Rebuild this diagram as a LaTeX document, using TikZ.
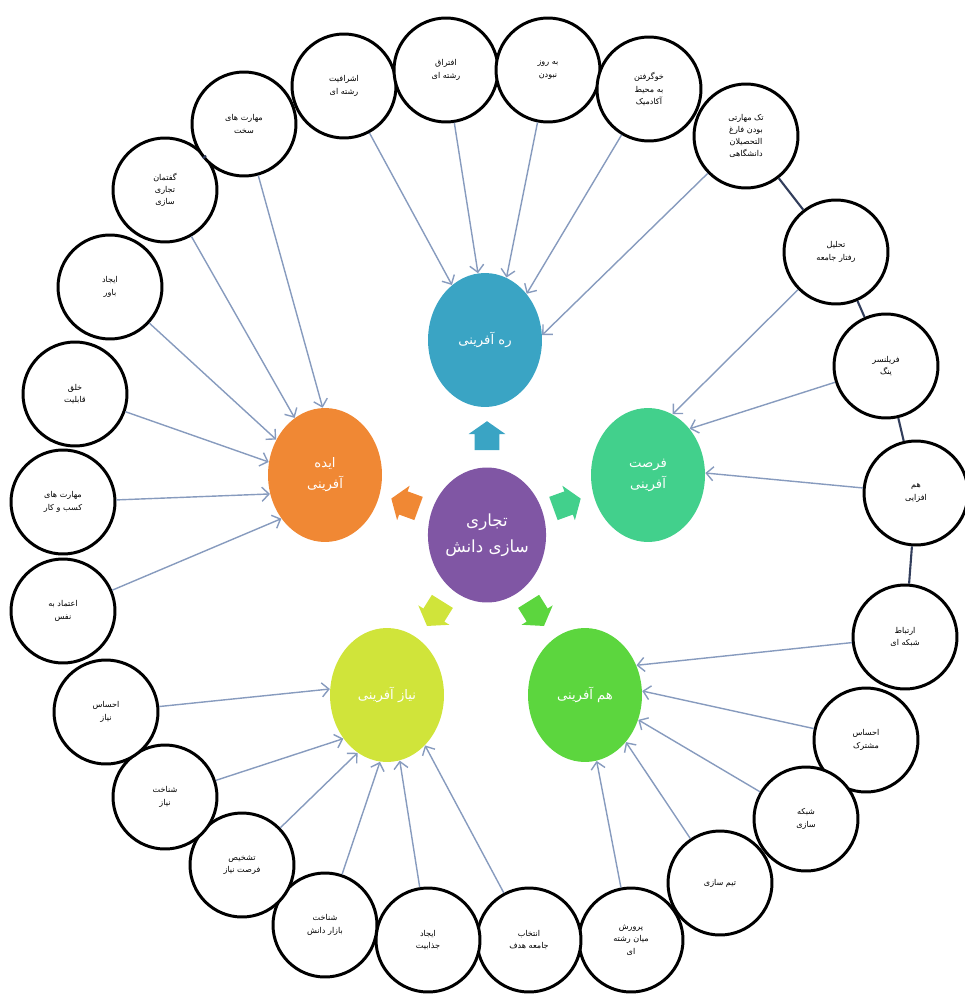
\documentclass[tikz,border=0pt]{standalone}
\usepackage{fontspec}
\usetikzlibrary{shapes.geometric,shapes.arrows,arrows.meta}
\newfontfamily\arabicfont[Script=Arabic]{DejaVu Sans}
\TeXXeTstate=1
\newcommand{\fa}[1]{\beginR #1\endR}

\definecolor{RahBlue}{RGB}{58,164,196}
\definecolor{ForsatTeal}{RGB}{66,208,140}
\definecolor{HamGreen}{RGB}{92,214,62}
\definecolor{NiazLime}{RGB}{208,228,58}
\definecolor{IdeaOrange}{RGB}{240,136,52}
\definecolor{CorePurple}{RGB}{128,86,164}
\definecolor{FeedBlue}{RGB}{135,155,190}
\definecolor{RingNavy}{RGB}{50,62,92}

\tikzset{
  outer/.style={draw, circle, line width=1.7pt, fill=white, minimum size=2.08cm, inner sep=0pt,
    align=center, font=\arabicfont\fontsize{4.6}{7}\selectfont},
  core/.style={ellipse, minimum width=2.28cm, minimum height=2.68cm, inner sep=0pt,
    align=center, text=white, font=\arabicfont\fontsize{7.5}{12}\selectfont},
  feed/.style={draw=FeedBlue, line width=0.8pt, -{Straight Barb[length=4pt,width=8pt]}},
  ring/.style={draw=RingNavy, line width=1.2pt},
  pointer/.style={single arrow, single arrow head extend=0.12cm, single arrow tip angle=110,
    minimum height=0.58cm, inner xsep=0pt, inner ysep=0.24cm}
}

\begin{document}
\begin{tikzpicture}[x=0.02cm, y=-0.02cm]
\useasboundingbox (0,0) rectangle (964,997);

% centre and the five creation ellipses
\node[core, fill=CorePurple, minimum width=2.32cm, minimum height=2.7cm,
  font=\arabicfont\fontsize{9.5}{15}\selectfont] (dan) at (487,535) {\fa{تجاری}\\\fa{سازی دانش}};
\node[core, fill=RahBlue] (rah) at (485,340) {\fa{ره آفرینی}};
\node[core, fill=ForsatTeal] (fors) at (648,475) {\fa{فرصت}\\\fa{آفرینی}};
\node[core, fill=HamGreen] (ham) at (585,695) {\fa{هم آفرینی}};
\node[core, fill=NiazLime] (niaz) at (387,695) {\fa{نیاز آفرینی}};
\node[core, fill=IdeaOrange] (idea) at (325,475) {\fa{ایده}\\\fa{آفرینی}};

% small block arrows from the centre
\node[pointer, fill=RahBlue, rotate=90] (p1) at (487,440) {};
\node[pointer, fill=ForsatTeal, rotate=20] (p2) at (563,505) {};
\node[pointer, fill=HamGreen, rotate=-58] (p3) at (534,610) {};
\node[pointer, fill=NiazLime, rotate=-122] (p4) at (437,610) {};
\node[pointer, fill=IdeaOrange, rotate=160] (p5) at (409,505) {};

% outer ring of circles
\node[outer] (o1) at (165,190) {\fa{گفتمان}\\\fa{تجاری}\\\fa{سازی}};
\node[outer] (o2) at (244,124) {\fa{مهارت های}\\\fa{سخت}};
\node[outer] (o3) at (344,86) {\fa{اشرافیت}\\\fa{رشته ای}};
\node[outer] (o4) at (446,70) {\fa{افتراق}\\\fa{رشته ای}};
\node[outer] (o5) at (548,70) {\fa{به روز}\\\fa{نبودن}};
\node[outer] (o6) at (649,89) {\fa{خوگرفتن}\\\fa{به محیط}\\\fa{آکادمیک}};
\node[outer] (o7) at (746,136) {\fa{تک مهارتی}\\\fa{بودن فارغ}\\\fa{التحصیلان}\\\fa{دانشگاهی}};
\node[outer] (o8) at (836,252) {\fa{تحلیل}\\\fa{رفتار جامعه}};
\node[outer] (o9) at (886,366) {\fa{فریلنسر}\\\fa{ینگ}};
\node[outer] (o10) at (916,493) {\fa{هم}\\\fa{افزایی}};
\node[outer] (o11) at (905,637) {\fa{ارتباط}\\\fa{شبکه ای}};
\node[outer] (o12) at (866,740) {\fa{احساس}\\\fa{مشترک}};
\node[outer] (o13) at (806,819) {\fa{شبکه}\\\fa{سازی}};
\node[outer] (o14) at (720,883) {\fa{تیم سازی}};
\node[outer] (o15) at (631,940) {\fa{پرورش}\\\fa{میان رشته}\\\fa{ای}};
\node[outer] (o16) at (529,940) {\fa{انتخاب}\\\fa{جامعه هدف}};
\node[outer] (o17) at (428,940) {\fa{ایجاد}\\\fa{جذابیت}};
\node[outer] (o18) at (325,925) {\fa{شناخت}\\\fa{بازار دانش}};
\node[outer] (o19) at (242,865) {\fa{تشخیص}\\\fa{فرصت نیاز}};
\node[outer] (o20) at (165,797) {\fa{شناخت}\\\fa{نیاز}};
\node[outer] (o21) at (106,712) {\fa{احساس}\\\fa{نیاز}};
\node[outer] (o22) at (63,611) {\fa{اعتماد به}\\\fa{نفس}};
\node[outer] (o23) at (63,502) {\fa{مهارت های}\\\fa{کسب و کار}};
\node[outer] (o24) at (75,394) {\fa{خلق}\\\fa{قابلیت}};
\node[outer] (o25) at (110,287) {\fa{ایجاد}\\\fa{باور}};

% links between neighbouring circles that do not touch
\foreach \a/\b in {1/2,2/3,7/8,8/9,9/10,10/11}
  \draw[ring] (o\a) -- (o\b);

% feeding arrows
\draw[feed] (o3) -- (rah.121);
\draw[feed] (o4) -- (rah.96);
\draw[feed] (o5) -- (rah.71);
\draw[feed] (o6) -- (rah.48);
\draw[feed] (o7) -- (rah.5);
\draw[feed] (o8) -- (fors.68);
\draw[feed] (o9) -- (fors.48);
\draw[feed] (o10) -- (fors.2);
\draw[feed] (o11) -- (ham.30);
\draw[feed] (o12) -- (ham.4);
\draw[feed] (o13) -- (ham.-25);
\draw[feed] (o14) -- (ham.-49);
\draw[feed] (o15) -- (ham.-80);
\draw[feed] (o16) -- (niaz.-53);
\draw[feed] (o17) -- (niaz.-79);
\draw[feed] (o18) -- (niaz.-96);
\draw[feed] (o19) -- (niaz.-117);
\draw[feed] (o20) -- (niaz.-135);
\draw[feed] (o21) -- (niaz.174);
\draw[feed] (o22) -- (idea.-135);
\draw[feed] (o23) -- (idea.-161);
\draw[feed] (o24) -- (idea.167);
\draw[feed] (o25) -- (idea.144);
\draw[feed] (o1) -- (idea.118);
\draw[feed] (o2) -- (idea.92);
\end{tikzpicture}
\end{document}
